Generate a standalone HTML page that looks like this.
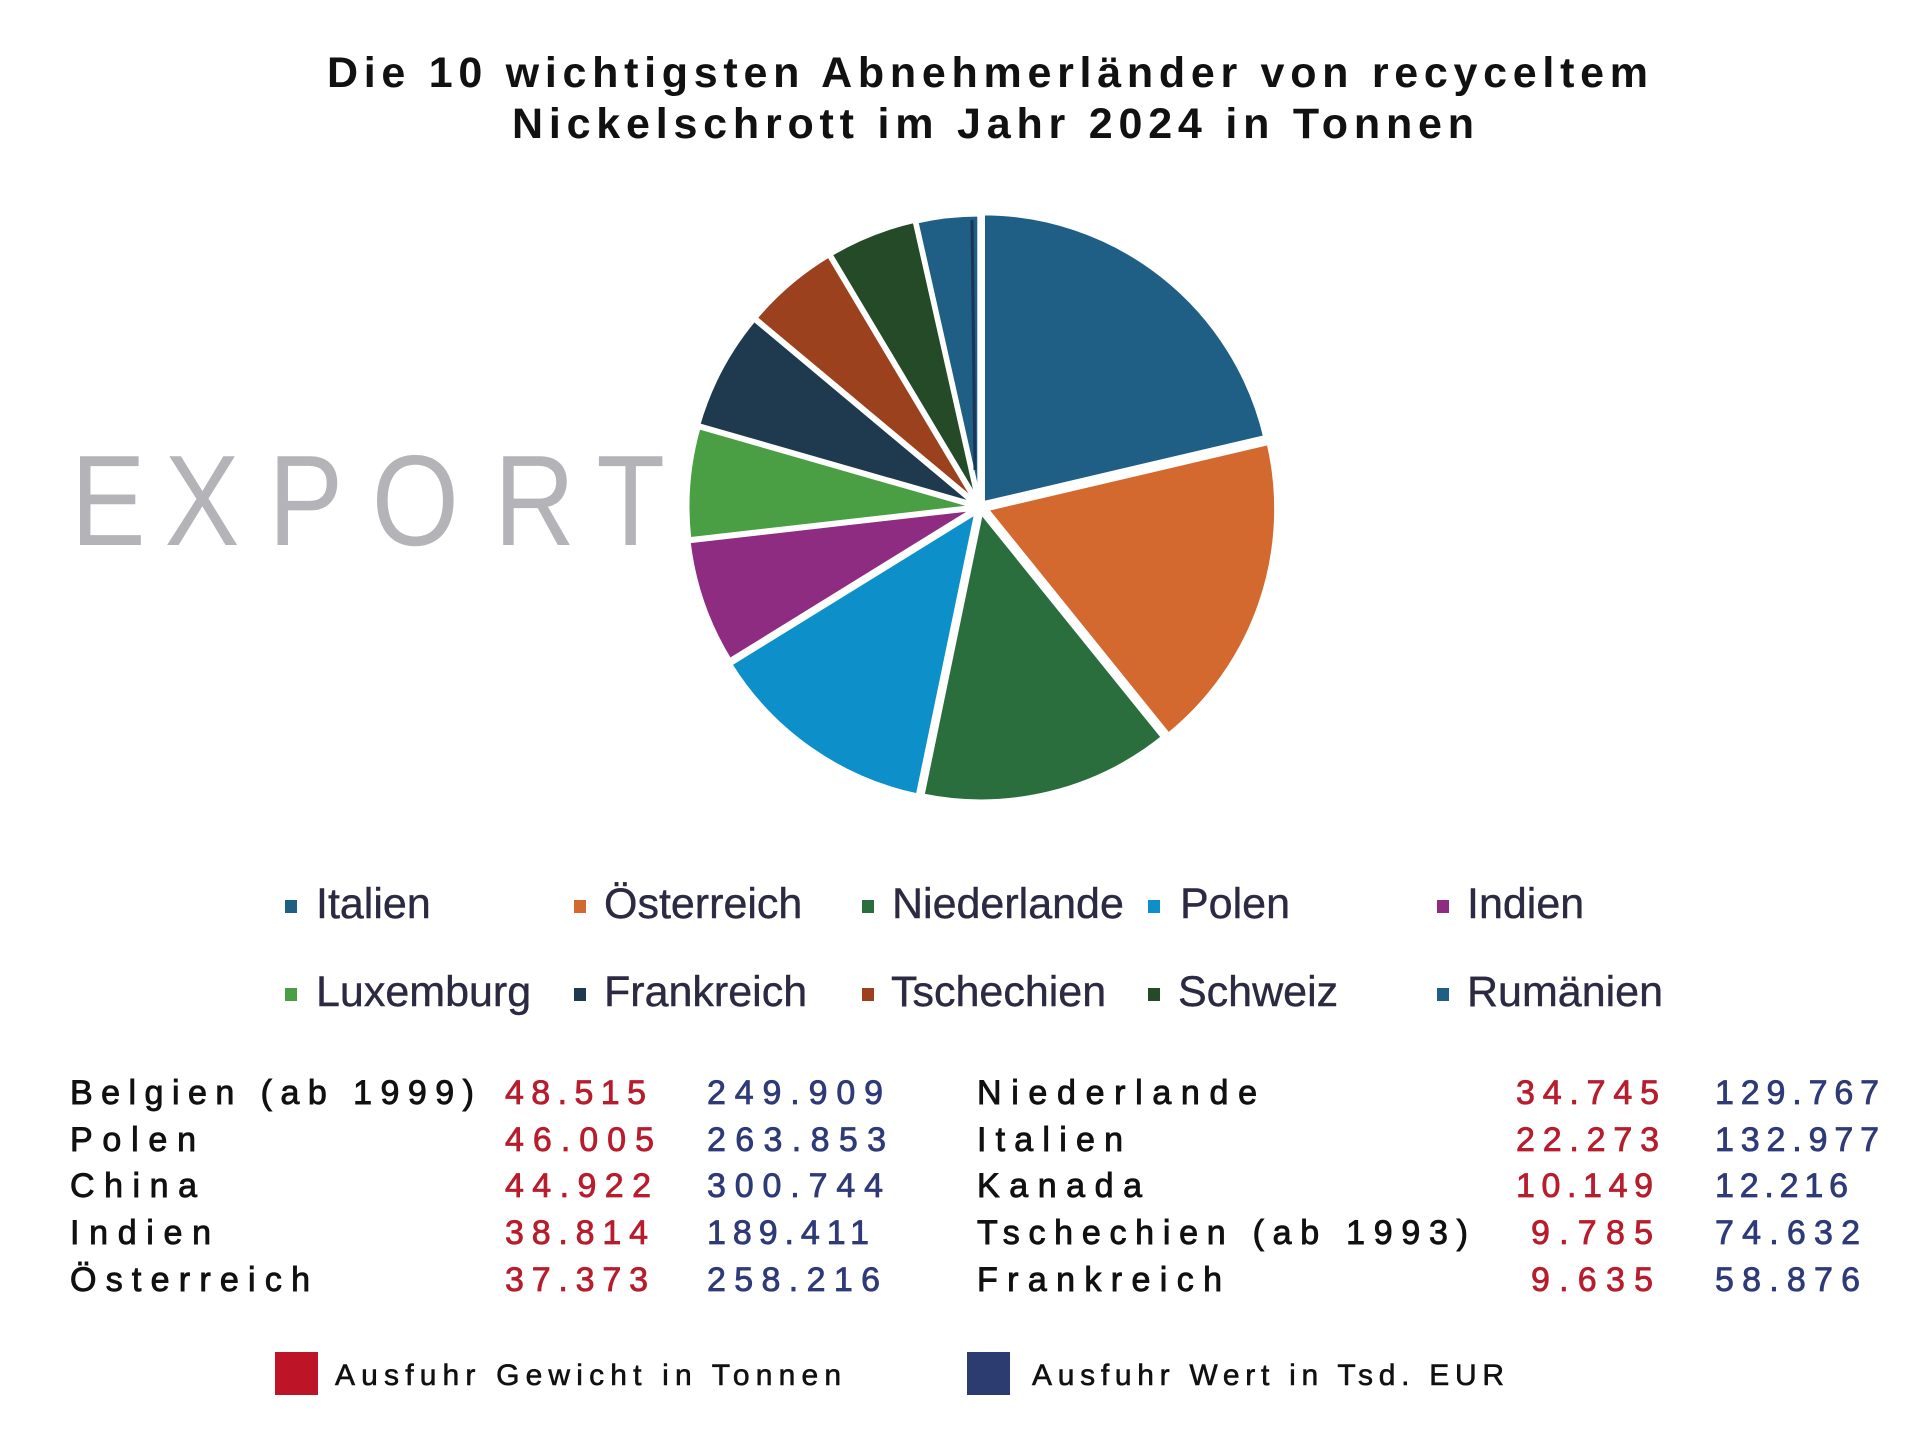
<!DOCTYPE html>
<html>
<head>
<meta charset="utf-8">
<style>
html,body{margin:0;padding:0;background:#ffffff;}
svg{display:block;}
text{font-family:"Liberation Sans",Arial,sans-serif;}
</style>
</head>
<body>
<svg width="1920" height="1432" viewBox="0 0 1920 1432" xmlns="http://www.w3.org/2000/svg">
<rect x="0" y="0" width="1920" height="1432" fill="#ffffff"/>

<!-- Title -->
<text x="327" y="87" font-size="43" font-weight="bold" fill="#111111" textLength="1321" lengthAdjust="spacing">Die 10 wichtigsten Abnehmerländer von recyceltem</text>
<text x="512" y="138" font-size="43" font-weight="bold" fill="#111111" textLength="962" lengthAdjust="spacing">Nickelschrott im Jahr 2024 in Tonnen</text>

<!-- EXPORT -->
<g font-size="129" fill="#b4b4b8">
<text transform="translate(70.8,545) scale(0.87,1)" x="0" y="0">E</text>
<text transform="translate(164.6,545) scale(0.87,1)" x="0" y="0">X</text>
<text transform="translate(268.3,545) scale(0.87,1)" x="0" y="0">P</text>
<text transform="translate(371.7,545) scale(0.87,1)" x="0" y="0">O</text>
<text transform="translate(494,545) scale(0.87,1)" x="0" y="0">R</text>
<text transform="translate(596.4,545) scale(0.87,1)" x="0" y="0">T</text>
</g>

<!-- Pie -->
<g transform="translate(-2,0)" stroke="#ffffff" stroke-width="5" stroke-linejoin="miter">
<path d="M984.48,503.87 L984.48,212.87 A291,291 0 0,1 1267.79,437.42 Z" fill="#1f5e85"/>
<path d="M987.67,508.95 L1270.98,442.50 A291,291 0 0,1 1170.41,735.42 Z" fill="#d4692f"/>
<path d="M982.94,510.89 L1165.68,737.36 A291,291 0 0,1 923.93,795.84 Z" fill="#2b6e3e"/>
<path d="M979.13,511.10 L920.12,796.05 A291,291 0 0,1 731.56,664.01 Z" fill="#0d8fca"/>
<path d="M979.17,507.98 L731.60,660.89 A291,291 0 0,1 690.04,540.92 Z" fill="#8e2c82"/>
<path d="M980.01,506.83 L690.88,539.77 A291,291 0 0,1 700.28,426.62 Z" fill="#4a9f45"/>
<path d="M979.35,505.59 L699.62,425.38 A291,291 0 0,1 756.10,318.93 Z" fill="#1f3a4f"/>
<path d="M980.05,504.72 L756.80,318.06 A291,291 0 0,1 831.03,254.77 Z" fill="#9c411e"/>
<path d="M980.89,504.21 L831.87,254.26 A291,291 0 0,1 916.91,220.33 Z" fill="#244a28"/>
<path d="M981.78,505.01 L917.80,221.13 A291,291 0 0,1 981.78,214.01 Z" fill="#1f5e85"/>
</g>
<line x1="972" y1="220" x2="975" y2="470" stroke="#1b3558" stroke-width="3"/>

<!-- Pie legend -->
<g>
<rect x="285" y="900" width="12" height="13" fill="#1f5e85"/>
<rect x="574" y="900" width="12" height="13" fill="#d4692f"/>
<rect x="862" y="900" width="12" height="13" fill="#2b6e3e"/>
<rect x="1148" y="900" width="12" height="13" fill="#0d8fca"/>
<rect x="1437" y="900" width="12" height="13" fill="#8e2c82"/>
<rect x="285" y="988" width="12" height="13" fill="#4a9f45"/>
<rect x="574" y="988" width="12" height="13" fill="#1f3a4f"/>
<rect x="862" y="988" width="12" height="13" fill="#9c411e"/>
<rect x="1148" y="988" width="12" height="13" fill="#244a28"/>
<rect x="1437" y="988" width="12" height="13" fill="#1f5e85"/>
</g>
<g font-size="43" fill="#2c2a42" stroke="#2c2a42" stroke-width="0.4">
<text x="316" y="918">Italien</text>
<text x="604" y="918">Österreich</text>
<text x="892" y="918">Niederlande</text>
<text x="1180" y="918">Polen</text>
<text x="1467" y="918">Indien</text>
<text x="316" y="1006">Luxemburg</text>
<text x="604" y="1006">Frankreich</text>
<text x="891" y="1006">Tschechien</text>
<text x="1178" y="1006">Schweiz</text>
<text x="1467" y="1006">Rumänien</text>
</g>

<!-- Table left -->
<g font-size="34" fill="#111111" stroke="#111111" stroke-width="0.9">
<text x="70" y="1104" textLength="404" lengthAdjust="spacing">Belgien (ab 1999)</text>
<text x="70" y="1151" textLength="126" lengthAdjust="spacing">Polen</text>
<text x="70" y="1197" textLength="127" lengthAdjust="spacing">China</text>
<text x="70" y="1244" textLength="141" lengthAdjust="spacing">Indien</text>
<text x="70" y="1291" textLength="240" lengthAdjust="spacing">Österreich</text>
</g>
<g font-size="34" fill="#b71d2d" stroke="#b71d2d" stroke-width="0.8">
<text x="505" y="1104" textLength="141" lengthAdjust="spacing">48.515</text>
<text x="505" y="1151" textLength="149" lengthAdjust="spacing">46.005</text>
<text x="505" y="1197" textLength="146" lengthAdjust="spacing">44.922</text>
<text x="505" y="1244" textLength="143" lengthAdjust="spacing">38.814</text>
<text x="505" y="1291" textLength="143" lengthAdjust="spacing">37.373</text>
</g>
<g font-size="34" fill="#2e3b78" stroke="#2e3b78" stroke-width="0.8">
<text x="707" y="1104" textLength="176" lengthAdjust="spacing">249.909</text>
<text x="707" y="1151" textLength="179" lengthAdjust="spacing">263.853</text>
<text x="707" y="1197" textLength="176" lengthAdjust="spacing">300.744</text>
<text x="707" y="1244" textLength="162" lengthAdjust="spacing">189.411</text>
<text x="707" y="1291" textLength="173" lengthAdjust="spacing">258.216</text>
</g>

<!-- Table right -->
<g font-size="34" fill="#111111" stroke="#111111" stroke-width="0.9">
<text x="977" y="1104" textLength="280" lengthAdjust="spacing">Niederlande</text>
<text x="977" y="1151" textLength="146" lengthAdjust="spacing">Italien</text>
<text x="977" y="1197" textLength="165" lengthAdjust="spacing">Kanada</text>
<text x="977" y="1244" textLength="491" lengthAdjust="spacing">Tschechien (ab 1993)</text>
<text x="977" y="1291" textLength="245" lengthAdjust="spacing">Frankreich</text>
</g>
<g font-size="34" fill="#b71d2d" stroke="#b71d2d" stroke-width="0.8">
<text x="1516" y="1104" textLength="143" lengthAdjust="spacing">34.745</text>
<text x="1516" y="1151" textLength="143" lengthAdjust="spacing">22.273</text>
<text x="1516" y="1197" textLength="137" lengthAdjust="spacing">10.149</text>
<text x="1531" y="1244" textLength="122" lengthAdjust="spacing">9.785</text>
<text x="1531" y="1291" textLength="122" lengthAdjust="spacing">9.635</text>
</g>
<g font-size="34" fill="#2e3b78" stroke="#2e3b78" stroke-width="0.8">
<text x="1715" y="1104" textLength="164" lengthAdjust="spacing">129.767</text>
<text x="1715" y="1151" textLength="164" lengthAdjust="spacing">132.977</text>
<text x="1715" y="1197" textLength="133" lengthAdjust="spacing">12.216</text>
<text x="1715" y="1244" textLength="145" lengthAdjust="spacing">74.632</text>
<text x="1715" y="1291" textLength="145" lengthAdjust="spacing">58.876</text>
</g>

<!-- Bottom legend -->
<rect x="275" y="1352" width="43" height="43" fill="#be1428"/>
<text x="335" y="1385" font-size="30" fill="#111111" stroke="#111111" stroke-width="0.6" textLength="506" lengthAdjust="spacing">Ausfuhr Gewicht in Tonnen</text>
<rect x="967" y="1352" width="43" height="43" fill="#2c3b70"/>
<text x="1032" y="1385" font-size="30" fill="#111111" stroke="#111111" stroke-width="0.6" textLength="472" lengthAdjust="spacing">Ausfuhr Wert in Tsd. EUR</text>
</svg>
</body>
</html>
